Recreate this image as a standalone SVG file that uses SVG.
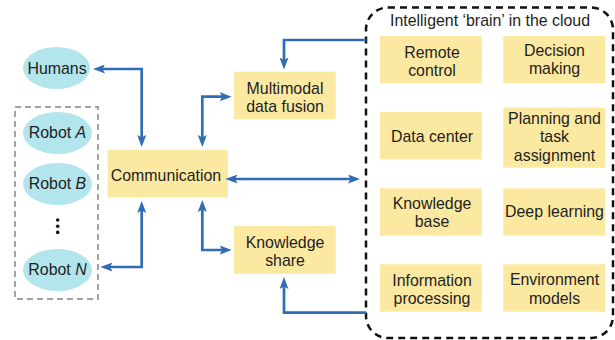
<svg xmlns="http://www.w3.org/2000/svg" width="615" height="340" viewBox="0 0 615 340">
<defs>
<style>
text{font-family:"Liberation Sans",Arial,sans-serif;font-size:15.9px;fill:#1e1e1e;text-anchor:middle}
.box{fill:#fce9a1}
.ell{fill:#b3e5ed}
.conn{fill:none;stroke:#2f6db5;stroke-width:2.7}
</style>
<marker id="ah" viewBox="0 0 12 9" refX="7" refY="4.5" markerWidth="12" markerHeight="9" markerUnits="userSpaceOnUse" orient="auto-start-reverse">
<path d="M0,0 L12,4.5 L0,9 L2.5,4.5 z" fill="#2f6db5"/>
</marker>
</defs>
<rect width="615" height="340" fill="#ffffff"/>

<g id="robots-group">
<rect x="15" y="107" width="83" height="192" fill="none" stroke="#a3a3a3" stroke-width="2" stroke-dasharray="6,4"/>
</g>

<g id="humans"><ellipse class="ell" cx="56.5" cy="68" rx="33.5" ry="21"/><text x="57" y="73.5">Humans</text></g>
<g id="robotA"><ellipse class="ell" cx="57.5" cy="133" rx="34.5" ry="21"/><text x="57.5" y="138">Robot <tspan font-style="italic">A</tspan></text></g>
<g id="robotB"><ellipse class="ell" cx="57.5" cy="184" rx="34.5" ry="21"/><text x="57.5" y="189">Robot <tspan font-style="italic">B</tspan></text></g>
<g id="dots" fill="#111"><circle cx="57.7" cy="220" r="1.8"/><circle cx="57.7" cy="226.2" r="1.8"/><circle cx="57.7" cy="232.4" r="1.8"/></g>
<g id="robotN"><ellipse class="ell" cx="57.5" cy="270" rx="34.5" ry="21"/><text x="57.5" y="275">Robot <tspan font-style="italic">N</tspan></text></g>

<g id="communication"><rect class="box" x="107.7" y="150" width="120.3" height="47.5"/><text x="166" y="181">Communication</text></g>
<g id="multimodal"><rect class="box" x="234" y="71.7" width="101.7" height="47.6"/><text x="285" y="93.5">Multimodal</text><text x="285" y="112">data fusion</text></g>
<g id="knowledge-share"><rect class="box" x="234" y="226" width="101.7" height="47.7"/><text x="285" y="247.5">Knowledge</text><text x="285" y="266">share</text></g>

<g id="cloud">
<rect x="366" y="7.5" width="247" height="330.5" rx="22" ry="22" fill="none" stroke="#111" stroke-width="2.5" stroke-dasharray="7,5"/>
<text x="490" y="25.5">Intelligent ‘brain’ in the cloud</text>
</g>
<g id="remote-control"><rect class="box" x="380" y="36" width="101.7" height="47.3"/><text x="432" y="57.5">Remote</text><text x="432" y="76">control</text></g>
<g id="decision-making"><rect class="box" x="503.3" y="36" width="101.7" height="47.3"/><text x="554.5" y="55.5">Decision</text><text x="554.5" y="74">making</text></g>
<g id="data-center"><rect class="box" x="380" y="112" width="101.7" height="47.3"/><text x="432" y="141.7">Data center</text></g>
<g id="planning"><rect class="box" x="503.3" y="107.7" width="101.7" height="60"/><text x="554.5" y="124">Planning and</text><text x="554.5" y="142.3">task</text><text x="554.5" y="160.6">assignment</text></g>
<g id="knowledge-base"><rect class="box" x="380" y="188.3" width="101.7" height="47.4"/><text x="432" y="209">Knowledge</text><text x="432" y="227.3">base</text></g>
<g id="deep-learning"><rect class="box" x="503.3" y="188.3" width="101.7" height="47.4"/><text x="554.5" y="217">Deep learning</text></g>
<g id="information-processing"><rect class="box" x="380" y="264.3" width="101.7" height="47.4"/><text x="432" y="285.7">Information</text><text x="432" y="304">processing</text></g>
<g id="environment-models"><rect class="box" x="503.3" y="264.3" width="101.7" height="47.4"/><text x="554.5" y="285.3">Environment</text><text x="554.5" y="303.7">models</text></g>

<g id="connectors">
<path class="conn" d="M98,69 H141.7 V142" marker-start="url(#ah)" marker-end="url(#ah)"/>
<path class="conn" d="M105.5,267 H141.7 V206" marker-start="url(#ah)" marker-end="url(#ah)"/>
<path class="conn" d="M202.3,142 V96.7 H226.7" marker-start="url(#ah)" marker-end="url(#ah)"/>
<path class="conn" d="M202.3,205 V250 H226.7" marker-start="url(#ah)" marker-end="url(#ah)"/>
<path class="conn" d="M230.5,179 H355" marker-start="url(#ah)" marker-end="url(#ah)"/>
<path class="conn" d="M366,40 H284 V64.5" marker-end="url(#ah)"/>
<path class="conn" d="M366,312.7 H284 V282" marker-end="url(#ah)"/>
</g>
</svg>
